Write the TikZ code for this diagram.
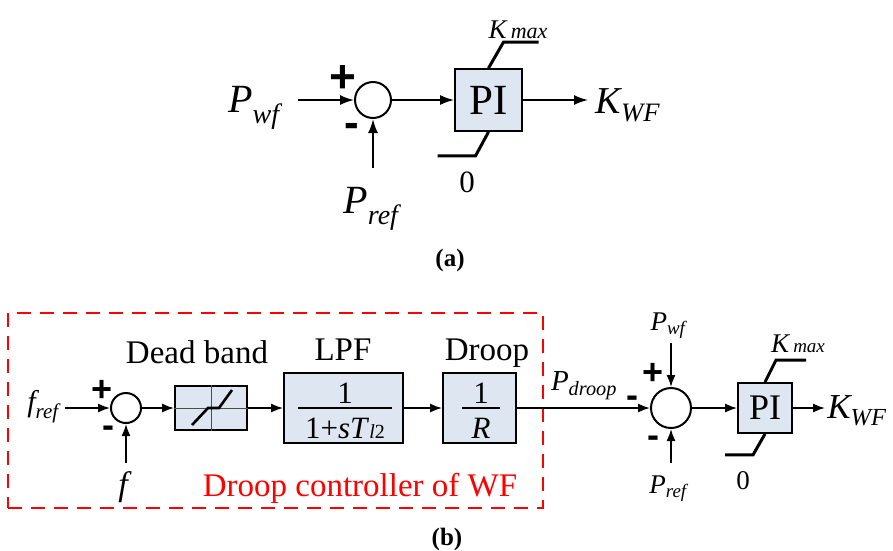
\documentclass[tikz,border=0pt]{standalone}
\usepackage{amsmath}
\usepackage{fontspec}
\setmainfont{Liberation Serif}
\newfontfamily\signfont{Liberation Sans}
\usetikzlibrary{arrows.meta}
\definecolor{boxfill}{RGB}{222,230,242}
\newcommand{\fsz}[1]{\fontsize{#1}{#1}\selectfont}
\begin{document}
\begin{tikzpicture}[x=1pt,y=-1pt,
  blk/.style={draw,line width=1.8pt,fill=boxfill,inner sep=0pt},
  sumc/.style={circle,draw,line width=2pt,inner sep=0pt},
  arr/.style={line width=1.8pt,-{Latex[length=14pt,width=10pt]}},
  arrb/.style={line width=1.6pt,-{Latex[length=12pt,width=9pt]}},
  lim/.style={line width=3pt},
  lbl/.style={inner sep=0pt,anchor=base},
  sgn/.style={inner sep=0pt,anchor=base},
  grid/.style={line width=0.7pt,black!70},
  fbar/.style={line width=1.6pt},
]
\useasboundingbox (0,0) rectangle (893,550);

% ---------------- (a) ----------------
\node[sumc,minimum size=36pt] (sa) at (373,100) {};
\node[blk,minimum width=67pt,minimum height=62pt,font=\fsz{43}] (pia) at (488.5,100) {PI};
\node[lbl,font=\fsz{40}] (pwfa) at (254,112) {$\textit{P}_{\textit{wf}}$};
\node[lbl,font=\fsz{40}] (prefa) at (371,213) {$\textit{P}_{\textit{ref}}$};
\node[lbl,font=\fsz{38}] (kwfa) at (628,113) {$\textit{K}_{\textit{WF}}$};
\node[lbl,font=\fsz{27}] (kmaxa) at (518,38) {\textit{K}\hspace{3pt}{\fsz{22}\textit{max}}};
\node[lbl,font=\fsz{31}] (zeroa) at (467,192) {0};
\node[sgn,font=\signfont\bfseries\fsz{46}] (plusa) at (343,92) {+};
\node[sgn,font=\signfont\bfseries\fsz{44}] (minusa) at (352,137) {-};
\coordinate (ainP) at (298,100);
\coordinate (ainR) at (373,168);
\coordinate (aout) at (588,100);
\draw[arr] (ainP) -- (sa.west);
\draw[arr] (ainR) -- (sa.south);
\draw[arr] (sa.east) -- (pia.west);
\draw[arr] (pia.east) -- (aout);
\draw[lim] (pia.north) -- ++(15,-26) -- ++(35,0);
\draw[lim] (pia.south) -- ++(-13,24) -- ++(-38,0);
\node[lbl,font=\bfseries\fsz{25}] (lbla) at (450,266) {(a)};

% ---------------- (b) ----------------
\node[draw=red,line width=1.8pt,dash pattern=on 14pt off 9pt,
      minimum width=535pt,minimum height=195pt,inner sep=0pt] (ctlbox) at (275.5,410.5) {};
\node[lbl,font=\fsz{33},text=red] (ctl) at (360,496) {Droop controller of WF};

\node[lbl,font=\fsz{30}] (frefb) at (43,411) {$\textit{f}_{\textit{ref}}$};
\node[sumc,minimum size=30pt] (sb1) at (126,408) {};
\node[lbl,font=\fsz{34}] (fb) at (125,495) {\textit{f}};
\node[sgn,font=\signfont\bfseries\fsz{36}] (plusb) at (102,401) {+};
\node[sgn,font=\signfont\bfseries\fsz{36}] (minusb) at (108,437) {-};
\coordinate (binF) at (65,408);
\coordinate (binf) at (126,463);
\draw[arrb] (binF) -- (sb1.west);
\draw[arrb] (binf) -- (sb1.south);

% dead band
\node[blk,minimum width=72pt,minimum height=44pt] (db) at (211,408) {};
\draw[grid] (db.north) -- (db.south) (db.west) -- (db.east);
\begin{scope}[shift={(db.center)}]
  \draw[line width=2.6pt] (-19,17) -- (-3,0) -- (8,0) -- (21,-18);
\end{scope}
\node[lbl,font=\fsz{33}] (dbl) at (197,363) {Dead band};
\draw[arrb] (sb1.east) -- (db.west);

% LPF
\node[blk,minimum width=119pt,minimum height=70pt] (lpf) at (343.5,408) {};
\node[lbl,font=\fsz{33}] (lpfl) at (343,360) {LPF};
\node[lbl,font=\fsz{31}] (lpfnum) at (345,403) {1};
\node[lbl,font=\fsz{31}] (lpfden) at (345,438) {1+\textit{sT}{\fsz{20}\textit{l}2}};
\draw[fbar] (298,408) -- (392,408);
\draw[arrb] (db.east) -- (lpf.west);

% Droop
\node[blk,minimum width=73pt,minimum height=70pt] (dr) at (479.5,408) {};
\node[lbl,font=\fsz{33}] (drl) at (487,360) {Droop};
\node[lbl,font=\fsz{31}] (drnum) at (481,403) {1};
\node[lbl,font=\fsz{31}] (drden) at (481,438) {\textit{R}};
\draw[fbar] (462,408) -- (500,408);
\draw[arrb] (lpf.east) -- (dr.west);

% second summation
\node[sumc,minimum size=40pt] (sb2) at (671,408) {};
\draw[arrb] (dr.east) -- (sb2.west);
\node[lbl,font=\fsz{29}] (pdr) at (584,390) {$\textit{P}_{\textit{droop}}$};
\node[lbl,font=\fsz{27}] (pwfb) at (668,330) {$\textit{P}_{\textit{wf}}$};
\node[lbl,font=\fsz{27}] (prefb) at (668,493) {$\textit{P}_{\textit{ref}}$};
\node[sgn,font=\signfont\bfseries\fsz{36}] (minusc) at (632,407) {-};
\node[sgn,font=\signfont\bfseries\fsz{36}] (plusc) at (653,384) {+};
\node[sgn,font=\signfont\bfseries\fsz{36}] (minusd) at (653,447) {-};
\coordinate (bwf) at (671,343);
\coordinate (bref) at (671,463);
\draw[arrb] (bwf) -- (sb2.north);
\draw[arrb] (bref) -- (sb2.south);

% PI (b)
\node[blk,minimum width=54pt,minimum height=50pt,font=\fsz{36}] (pib) at (765,408) {PI};
\draw[arrb] (sb2.east) -- (pib.west);
\draw[lim] (pib.north) -- ++(11,-22) -- ++(30,0);
\draw[lim] (pib.south) -- ++(-12,21) -- ++(-28,0);
\node[lbl,font=\fsz{27}] (kmaxb) at (798,352) {\textit{K}\hspace{3pt}{\fsz{19}\textit{max}}};
\node[lbl,font=\fsz{27}] (zerob) at (743,489) {0};
\coordinate (bout) at (825,408);
\draw[arrb] (pib.east) -- (bout);
\node[lbl,font=\fsz{35}] (kwfb) at (857,418) {$\textit{K}_{\textit{WF}}$};
\node[lbl,font=\bfseries\fsz{25}] (lblb) at (447,545) {(b)};
\end{tikzpicture}
\end{document}
